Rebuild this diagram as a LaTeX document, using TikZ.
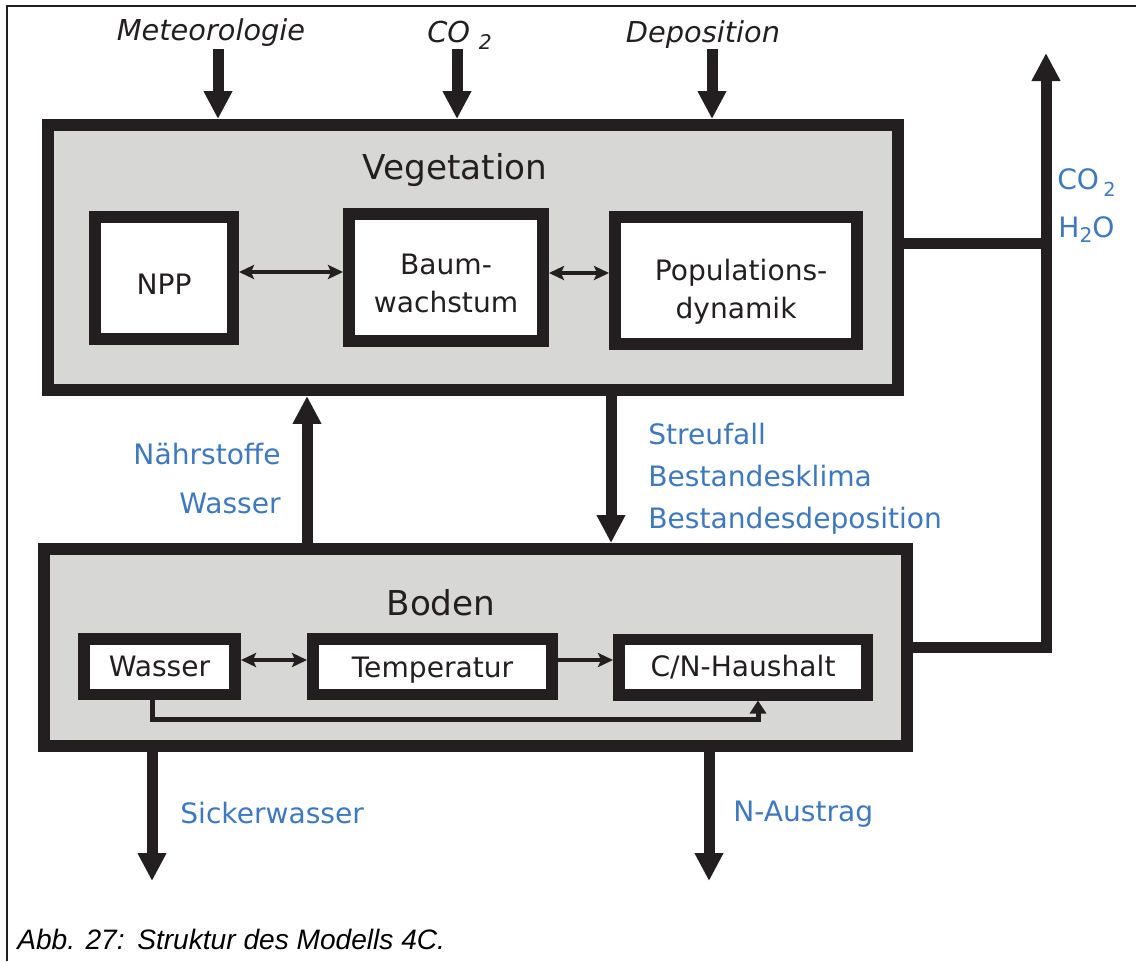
\documentclass[tikz,border=0pt]{standalone}
\usepackage{fontspec}
\setmainfont{DejaVu Sans}
\newfontfamily\capfont{Liberation Sans}
\usetikzlibrary{arrows.meta,positioning,calc}

\definecolor{boxgray}{RGB}{215,215,213}
\definecolor{ink}{RGB}{35,31,32}
\definecolor{flowblue}{RGB}{62,121,190}

\begin{document}
\begin{tikzpicture}[x=0.02cm, y=-0.02cm,
    >={Stealth[length=0.3cm,width=0.28cm,inset=0.06cm]},
    boxline/.style = {draw=ink, line width=0.23cm, outer sep=0.115cm},
    mainbox/.style = {boxline, fill=boxgray},
    subbox/.style = {boxline, fill=white, align=center, text=ink, font=\fontsize{16}{21.6}\selectfont},
    boxtitle/.style = {anchor=base, inner sep=0pt, text=ink, font=\fontsize{19.5}{23}\selectfont},
    inlabel/.style = {anchor=base, inner sep=0pt, text=ink, font=\fontsize{16.4}{19}\selectfont\itshape},
    flowlabel/.style = {inner sep=0pt, text=flowblue, font=\fontsize{16}{20}\selectfont},
    bigflow/.style = {draw=ink, line width=0.22cm, -{Triangle[length=0.56cm,width=0.54cm]}},
    bigline/.style = {draw=ink, line width=0.22cm},
    link/.style = {draw=ink, line width=0.08cm, <->},
    onelink/.style = {draw=ink, line width=0.08cm, ->},
    wline/.style = {draw=ink, line width=0.1cm, -{Triangle[length=0.26cm,width=0.32cm]}},
  ]
  \useasboundingbox (0,0) rectangle (1136,961);
  \draw[ink, line width=0.04cm] (7,961) -- (7,6) -- (1136,6);

  % Vegetation
  \node[mainbox, minimum width=17.01cm, minimum height=5.31cm] (veg) at (473,257.5) {};
  \node[boxtitle] (vegtitle) at (455,179) {Vegetation};
  \node[subbox, minimum width=2.77cm, minimum height=2.45cm] (npp) at (164,278) {\rule{0pt}{18.5pt}NPP};
  \node[subbox, minimum width=3.89cm, minimum height=2.55cm] (baum) at (446,277.5) {\rule{0pt}{18.5pt}Baum-\\wachstum};
  \node[subbox, minimum width=4.85cm, minimum height=2.55cm] (pop) at (736,280.5) {\rule{0pt}{25.3pt}Populations\rlap{-}\\dynamik};

  \draw[link] ([yshift=0.12cm]npp.east) -- ([yshift=0.12cm]npp.east -| baum.west);
  \draw[link] ([yshift=0.09cm]baum.east) -- ([yshift=0.09cm]baum.east -| pop.west);

  % Boden
  \node[mainbox, minimum width=17.27cm, minimum height=3.95cm] (boden) at (475.5,647.5) {};
  \node[boxtitle] (bodentitle) at (441,615) {Boden};
  \node[subbox, minimum width=3.03cm, minimum height=1.11cm] (wasser) at (159.5,666.5) {Wasser};
  \node[subbox, minimum width=4.79cm, minimum height=1.11cm, text height=15.5pt] (temp) at (432.5,666.5) {Temperatur};
  \node[subbox, minimum width=4.97cm, minimum height=1.11cm] (cn) at (743,667) {C/N-Haushalt};

  \draw[link] ([yshift=0.13cm]wasser.east) -- ([yshift=0.13cm]wasser.east -| temp.west);
  \draw[onelink] ([yshift=0.13cm]temp.east) -- ([yshift=0.13cm]temp.east -| cn.west);
  \coordinate (wbend) at (758,719);
  \draw[wline] ([xshift=-0.15cm]wasser.south) |- (wbend) -- (wbend |- cn.south);

  % inputs from above
  \coordinate (met) at (218,49);
  \coordinate (co2in) at (457,49);
  \coordinate (dep) at (712,49);
  \draw[bigflow] (met) -- (met |- veg.north);
  \draw[bigflow] (co2in) -- (co2in |- veg.north);
  \draw[bigflow] (dep) -- (dep |- veg.north);
  \node[inlabel] (metlabel) at (211,40) {Meteorologie};
  \node[inlabel, anchor=base west] (co2label) at (427,42) {CO\hspace{0.3em}\raisebox{-4.5pt}{\fontsize{11.5}{11.5}\selectfont 2}};
  \node[inlabel] (deplabel) at (703,42) {Deposition};

  % Vegetation <-> Boden
  \coordinate (naehr) at (307,0);
  \coordinate (streu) at (611,0);
  \draw[bigflow] (boden.north -| naehr) -- (veg.south -| naehr);
  \draw[bigflow] (veg.south -| streu) -- (boden.north -| streu);
  \node[flowlabel, anchor=base east] (naehrlabel) at (281,464) {Nährstoffe};
  \node[flowlabel, anchor=base east] (wasserlabel) at (281,513) {Wasser};
  \node[flowlabel, anchor=base west] (streulabel) at (648,444) {Streufall};
  \node[flowlabel, anchor=base west] (klimalabel) at (648,486) {Bestandesklima};
  \node[flowlabel, anchor=base west] (bdeplabel) at (648,528) {Bestandesdeposition};

  % gas output
  \coordinate (gasout) at (1046,53);
  \draw[bigflow, line join=miter] (boden.east) -| (gasout);
  \draw[bigline] ([yshift=0.29cm]veg.east) -- ([yshift=0.29cm]veg.east -| gasout);
  \node[flowlabel, anchor=base west] (co2out) at (1057,189) {CO\hspace{0.15em}\raisebox{-4.5pt}{\fontsize{11}{11}\selectfont 2}};
  \node[flowlabel, anchor=base west] (h2oout) at (1058,237) {H\raisebox{-3pt}{\fontsize{11.5}{11.5}\selectfont 2}O};

  % outputs below
  \coordinate (sicker) at (152,881);
  \coordinate (naus) at (709,881);
  \draw[bigflow] (boden.south -| sicker) -- (sicker);
  \draw[bigflow] (boden.south -| naus) -- (naus);
  \node[flowlabel, anchor=base west] (sickerlabel) at (180,823) {Sickerwasser};
  \node[flowlabel, anchor=base west] (nauslabel) at (733,821) {N-Austrag};

  \node[anchor=base west, inner sep=0pt, text=black, font=\capfont\itshape\fontsize{16}{18}\selectfont] (caption) at (17,949) {Abb. 27:\hspace{0.45em}Struktur des Modells 4C.};
\end{tikzpicture}
\end{document}
